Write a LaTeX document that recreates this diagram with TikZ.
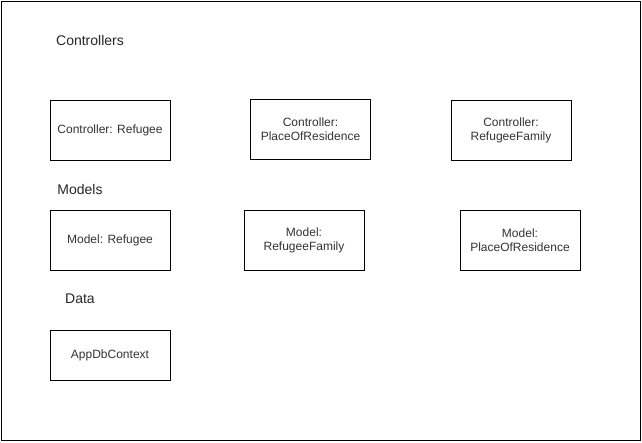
\documentclass[tikz,border=0pt]{standalone}
\usepackage{fontspec}
\setmainfont{Liberation Sans}
\begin{document}
\begin{tikzpicture}[x=1pt,y=-1pt,
  box/.style={draw=black,line width=1pt,fill=white,minimum width=120pt,minimum height=60pt,inner sep=0pt,align=center,font=\fontsize{12}{14}\selectfont,text=black!80},
  grouplabel/.style={font=\fontsize{14}{16}\selectfont,text=black!85,inner sep=0pt}]
\useasboundingbox (0,0) rectangle (642,442);
\node[draw=black,line width=1pt,minimum width=639pt,minimum height=439pt,inner sep=0pt] (frame) at (320.5,220.5) {};
\node[grouplabel] (lc) at (90,40) {Controllers};
\node[grouplabel] (lm) at (80,189) {Models};
\node[grouplabel] (ld) at (80,299) {Data};
\node[box] (cr) at (110,130) {Controller: Refugee};
\node[box] (cp) at (310.5,129) {Controller:\\PlaceOfResidence};
\node[box] (cf) at (511,130) {Controller:\\RefugeeFamily};
\node[box] (mr) at (110,240) {Model: Refugee};
\node[box] (mf) at (304,240) {Model:\\RefugeeFamily};
\node[box] (mp) at (520,240) {Model:\\PlaceOfResidence};
\node[box,minimum height=50pt] (db) at (110,355) {AppDbContext};
\end{tikzpicture}
\end{document}
